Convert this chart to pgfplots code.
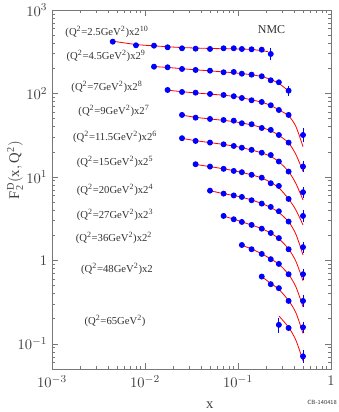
\documentclass[border=0pt]{standalone}
\usepackage{fontspec}
\setmainfont{Liberation Serif}
\usepackage{pgfplots}
\pgfplotsset{compat=1.18}
\definecolor{ptblue}{RGB}{0,0,255}
\definecolor{axgray}{RGB}{120,120,120}
\begin{document}
\begin{tikzpicture}
\begin{axis}[
  scale only axis, width=209.25pt, height=269.25pt,
  xmode=log, ymode=log,
  xmin=1e-3, xmax=1, ymin=0.05, ymax=1000,
  xtick={0.001,0.01,0.1,1}, xticklabels={$10^{-3}$,$10^{-2}$,$10^{-1}$,$1$},
  ytick={0.1,1,10,100,1000}, yticklabels={$10^{-1}$,$1$,$10^{1}$,$10^{2}$,$10^{3}$},
  minor xtick={0.002,0.003,0.004,0.005,0.006,0.007,0.008,0.009,0.02,0.03,0.04,0.05,0.06,0.07,0.08,0.09,0.2,0.3,0.4,0.5,0.6,0.7,0.8,0.9},
  minor ytick={0.06,0.07,0.08,0.09,0.2,0.3,0.4,0.5,0.6,0.7,0.8,0.9,2,3,4,5,6,7,8,9,20,30,40,50,60,70,80,90,200,300,400,500,600,700,800,900},
  tick align=inside, major tick length=4.5pt, minor tick length=2.5pt,
  axis line style={axgray, line width=0.5pt}, tick style={axgray, line width=0.4pt},
  tick label style={font=\fontsize{11}{13}\selectfont, text=black!75},
  xticklabel style={yshift=-1.5pt},
  xlabel={x}, ylabel={$\mathrm{F_2^D(x,Q^2)}$},
  xlabel style={at={(rel axis cs:0.566,-0.1)}, anchor=center, inner sep=0pt, font=\fontsize{11}{13}\selectfont, text=black!75},
  ylabel style={at={(rel axis cs:-0.1326,0.554)}, anchor=center, font=\fontsize{11}{13}\selectfont, text=black!75},
  clip=false,
  every axis plot/.append style={line width=0.6pt},
]
% fit curves
\addplot[red, smooth, no marks] coordinates {(0.0042,428) (0.008,386) (0.0125,372) (0.0175,363) (0.025,355) (0.05,346) (0.09,342) (0.14,337) (0.21,317)};
\addplot[red, smooth, no marks] coordinates {(0.0125,210) (0.0175,205) (0.025,198) (0.035,192) (0.05,186.5) (0.07,181) (0.09,177) (0.11,173) (0.14,167.5) (0.18,159.5) (0.225,147) (0.275,132) (0.35,107)};
\addplot[red, smooth, no marks] coordinates {(0.0175,109.5) (0.025,105) (0.035,101.5) (0.05,98.3) (0.07,95.2) (0.09,92.3) (0.11,88.8) (0.14,83.8) (0.18,78.5) (0.225,71.8) (0.275,63.5) (0.35,54) (0.42,40) (0.5,23)};
\addplot[red, smooth, no marks] coordinates {(0.025,55) (0.035,51.8) (0.05,49.5) (0.07,47.6) (0.09,46) (0.11,44.3) (0.14,42) (0.18,39) (0.225,35.8) (0.275,31.5) (0.35,25.5) (0.42,18.5) (0.5,11.6)};
\addplot[red, smooth, no marks] coordinates {(0.025,29) (0.035,27.2) (0.05,25.8) (0.07,24.5) (0.09,23.4) (0.11,22.4) (0.14,21) (0.18,19.4) (0.225,17.6) (0.275,15.2) (0.35,11.6) (0.42,8.3) (0.5,5.3)};
\addplot[red, smooth, no marks] coordinates {(0.035,14.1) (0.05,13.3) (0.07,12.5) (0.09,11.9) (0.11,11.3) (0.14,10.6) (0.18,9.7) (0.225,8.6) (0.275,7.4) (0.35,5.45) (0.42,4.0) (0.5,2.66)};
\addplot[red, smooth, no marks] coordinates {(0.05,6.85) (0.07,6.3) (0.09,6.0) (0.11,5.7) (0.14,5.3) (0.18,4.8) (0.225,4.3) (0.275,3.75) (0.35,2.9) (0.42,2.05) (0.5,1.16)};
\addplot[red, smooth, no marks] coordinates {(0.07,3.4) (0.09,3.12) (0.11,2.9) (0.14,2.65) (0.18,2.4) (0.225,2.12) (0.275,1.82) (0.35,1.37) (0.42,0.97) (0.5,0.57)};
\addplot[red, smooth, no marks] coordinates {(0.11,1.52) (0.14,1.37) (0.18,1.2) (0.225,1.04) (0.275,0.9) (0.35,0.68) (0.42,0.48) (0.5,0.277)};
\addplot[red, smooth, no marks] coordinates {(0.18,0.64) (0.225,0.53) (0.275,0.45) (0.35,0.33) (0.42,0.235) (0.5,0.1335)};
\addplot[red, smooth, no marks] coordinates {(0.275,0.216) (0.35,0.158) (0.42,0.11) (0.5,0.0626)};
% data points
\pgfplotsset{datapts/.style={only marks, mark=*, mark size=1.9pt, color=ptblue, mark options={fill=ptblue, draw=ptblue}}}
\addplot[datapts] coordinates {(0.0045,417.3) (0.008,377.8) (0.0125,373.7) (0.0175,357.5) (0.025,347.8) (0.035,344.0) (0.05,341.2) (0.07,347.8) (0.09,347.8) (0.11,341.2) (0.14,338.3) (0.18,334.7)};
\addplot[datapts] coordinates {(0.0125,209.4) (0.0175,206.0) (0.025,196.6) (0.035,191.2) (0.05,187.6) (0.07,179.5) (0.09,181.0) (0.11,172.6) (0.14,168.0) (0.18,160.7) (0.225,143.9) (0.275,136.2)};
\addplot[datapts] coordinates {(0.0175,110.1) (0.025,104.2) (0.035,102.2) (0.05,98.6) (0.07,95.9) (0.09,92.6) (0.11,88.3) (0.14,82.9) (0.18,79.1) (0.225,72.2) (0.275,63.4) (0.35,55.3)};
\addplot[datapts] coordinates {(0.025,55.3) (0.035,51.3) (0.05,49.5) (0.07,48.1) (0.09,47.2) (0.11,44.0) (0.14,42.8) (0.18,38.6) (0.225,36.6) (0.275,31.8) (0.35,25.8)};
\addplot[datapts] coordinates {(0.025,29.1) (0.035,27.0) (0.05,25.8) (0.07,24.6) (0.09,23.5) (0.11,22.4) (0.14,21.1) (0.18,19.5) (0.225,18.3) (0.275,15.3) (0.35,11.6)};
\addplot[datapts] coordinates {(0.035,14.2) (0.05,13.3) (0.07,12.5) (0.09,11.8) (0.11,11.4) (0.14,10.6) (0.18,9.8) (0.225,8.4) (0.275,7.8) (0.35,5.45)};
\addplot[datapts] coordinates {(0.05,6.85) (0.07,6.31) (0.09,6.00) (0.11,5.76) (0.14,5.26) (0.18,4.79) (0.225,4.37) (0.275,3.88) (0.35,2.92)};
\addplot[datapts] coordinates {(0.07,3.41) (0.09,3.11) (0.11,2.89) (0.14,2.66) (0.18,2.40) (0.225,2.13) (0.275,1.85) (0.35,1.36)};
\addplot[datapts] coordinates {(0.11,1.53) (0.14,1.36) (0.18,1.196) (0.225,1.034) (0.275,0.908) (0.35,0.683)};
\addplot[datapts] coordinates {(0.18,0.640) (0.225,0.519) (0.275,0.465) (0.35,0.327)};
\addplot[datapts] coordinates {(0.35,0.155)};
% points with visible error bars
\addplot[datapts, error bars/.cd, y dir=both, y explicit, error bar style={ptblue, line width=0.6pt}, error mark options={ptblue, mark size=2.2pt, line width=0.6pt}]
  table[x=x, y=y, y error=e] {
  x y e
  0.225 297.2 27
  0.35 108.0 6
  0.5 31.8 3.7
  0.5 13.3 1.0
  0.5 6.56 0.45
  0.5 3.41 0.25
  0.5 1.44 0.10
  0.5 0.683 0.05
  0.5 0.327 0.025
  0.5 0.158 0.012
  0.275 0.169 0.021
  0.5 0.0709 0.0068
  };
% labels
\begin{scope}[every node/.style={font=\fontsize{8}{9.5}\selectfont, text=black!80, inner sep=0pt}]
\node at (rel axis cs:0.197,0.939) {(Q\textsuperscript{2}=2.5GeV\textsuperscript{2})x2\textsuperscript{10}};
\node at (rel axis cs:0.194,0.872) {(Q\textsuperscript{2}=4.5GeV\textsuperscript{2})x2\textsuperscript{9}};
\node at (rel axis cs:0.197,0.786) {(Q\textsuperscript{2}=7GeV\textsuperscript{2})x2\textsuperscript{8}};
\node at (rel axis cs:0.222,0.719) {(Q\textsuperscript{2}=9GeV\textsuperscript{2})x2\textsuperscript{7}};
\node at (rel axis cs:0.226,0.646) {(Q\textsuperscript{2}=11.5GeV\textsuperscript{2})x2\textsuperscript{6}};
\node at (rel axis cs:0.226,0.577) {(Q\textsuperscript{2}=15GeV\textsuperscript{2})x2\textsuperscript{5}};
\node at (rel axis cs:0.226,0.499) {(Q\textsuperscript{2}=20GeV\textsuperscript{2})x2\textsuperscript{4}};
\node at (rel axis cs:0.226,0.429) {(Q\textsuperscript{2}=27GeV\textsuperscript{2})x2\textsuperscript{3}};
\node at (rel axis cs:0.222,0.365) {(Q\textsuperscript{2}=36GeV\textsuperscript{2})x2\textsuperscript{2}};
\node at (rel axis cs:0.233,0.279) {(Q\textsuperscript{2}=48GeV\textsuperscript{2})x2};
\node at (rel axis cs:0.226,0.134) {(Q\textsuperscript{2}=65GeV\textsuperscript{2})};
\end{scope}
\node[font=\fontsize{9}{11}\selectfont, text=black!80] at (rel axis cs:0.787,0.946) {NMC};
\node[font=\sffamily\fontsize{4.5}{5}\selectfont, text=black!80] at (rel axis cs:0.968,-0.092) {CB-140418};
\end{axis}
\pgfresetboundingbox
\path[use as bounding box] ([shift={(-39pt,-32.25pt)}]current axis.south west) rectangle ([shift={(5.25pt,7.5pt)}]current axis.north east);
\end{tikzpicture}
\end{document}
